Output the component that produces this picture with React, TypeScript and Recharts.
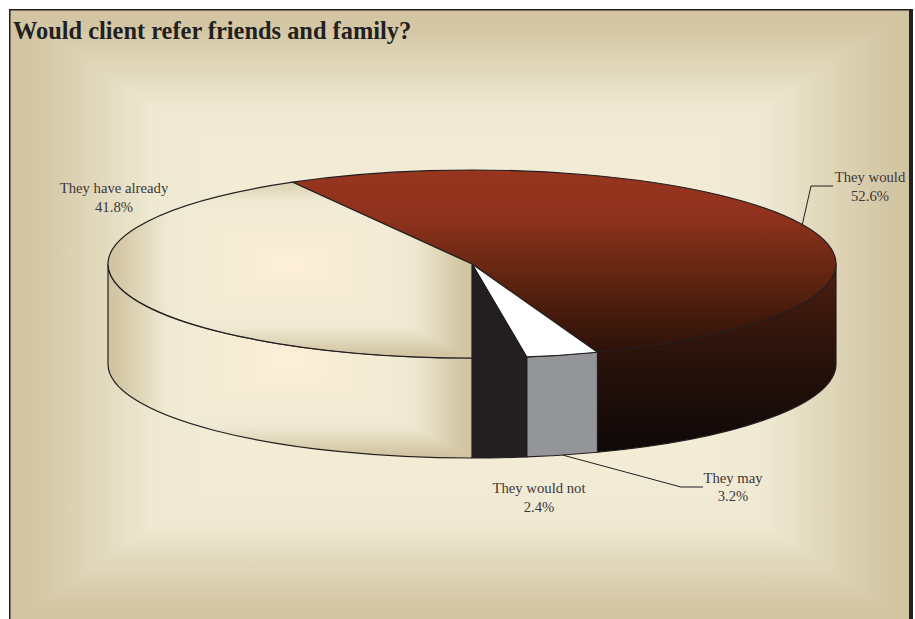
import React from 'react';
import { PieChart, Pie, Cell } from 'recharts';

const categories = ['They would', 'They may', 'They would not', 'They have already'];
const shares = [52.6, 3.2, 2.4, 41.8];
const shareLabels = ['52.6%', '3.2%', '2.4%', '41.8%'];

const tableData = categories.map((name, i) => ({ name, value: shares[i], text: shareLabels[i] }));

const WIDTH = 915;
const HEIGHT = 619;
const CX = 472;
const CY = 264;
const RX = 364;
const RY = 94;
const DEPTH = 100;

const INK = '#231f20';
const LABEL_INK = '#3b3738';
const SERIF = '"Liberation Serif", serif';

// centre of each label block and, where there is one, the elbow of its leader
const labelSpots = [
  { x: 870, y: 182, elbow: [811, 186], end: [833, 186], onWall: false },
  { x: 733, y: 482.5, elbow: [681, 487], end: [703, 487], onWall: true },
  { x: 539, y: 493 },
  { x: 114, y: 193 },
];

const topFills = ['url(#redTop)', '#ffffff', INK, 'bevel'];
const wallFills = ['url(#redWall)', '#939598', INK, 'bevel'];

const pt = (clock: number, dy = 0) => {
  const r = (clock * Math.PI) / 180;
  return [CX + RX * Math.sin(r), CY - RY * Math.cos(r) + dy];
};

// four mitred triangles, each ramping edge -> cream -> centre
const Bevel = ({ x, y, w, h }: { x: number; y: number; w: number; h: number }) => {
  const mx = x + w / 2;
  const my = y + h / 2;
  const r = x + w;
  const b = y + h;
  return (
    <g shapeRendering="crispEdges">
      <polygon points={`${x},${y} ${mx},${my} ${x},${b}`} fill="url(#rampL)" />
      <polygon points={`${r},${y} ${mx},${my} ${r},${b}`} fill="url(#rampR)" />
      <polygon points={`${x},${y} ${mx},${my} ${r},${y}`} fill="url(#rampT)" />
      <polygon points={`${x},${b} ${mx},${my} ${r},${b}`} fill="url(#rampB)" />
    </g>
  );
};

const ramp = [
  { o: '0%', c: '#d2c4a1' },
  { o: '6%', c: '#d4c7a5' },
  { o: '20%', c: '#e2d9bc' },
  { o: '32%', c: '#efe9d3' },
  { o: '42%', c: '#f1ebd6' },
  { o: '70%', c: '#f6ecd3' },
  { o: '100%', c: '#feefd8' },
];

const Ramp = ({ id, x1, y1, x2, y2 }: any) => (
  <linearGradient id={id} x1={x1} y1={y1} x2={x2} y2={y2}>
    {ramp.map((s) => (
      <stop key={s.o} offset={s.o} stopColor={s.c} />
    ))}
  </linearGradient>
);

const SliceShape = (props: any) => {
  const { startAngle, endAngle, index } = props;
  const c1 = 90 - startAngle;
  const c2 = 90 - endAngle;
  const [sx, sy] = pt(c1);
  const [ex, ey] = pt(c2);
  const large = c2 - c1 > 180 ? 1 : 0;
  const topPath = `M${CX},${CY} L${sx},${sy} A${RX},${RY} 0 ${large} 1 ${ex},${ey} Z`;

  const lo = Math.max(c1, 90);
  const hi = Math.min(c2, 270);
  let wallPath = '';
  if (lo < hi) {
    const [ax, ay] = pt(lo);
    const [bx, by] = pt(hi);
    wallPath = `M${ax},${ay} A${RX},${RY} 0 0 1 ${bx},${by} L${bx},${by + DEPTH} A${RX},${RY} 0 0 0 ${ax},${ay + DEPTH} Z`;
  }
  const isBevel = topFills[index] === 'bevel';

  return (
    <g>
      {wallPath && isBevel && (
        <>
          <clipPath id={`wallClip${index}`}>
            <path d={wallPath} />
          </clipPath>
          <g clipPath={`url(#wallClip${index})`}>
            <Bevel x={CX - RX} y={CY} w={RX} h={RY + DEPTH} />
          </g>
        </>
      )}
      {wallPath && (
        <path d={wallPath} fill={isBevel ? 'none' : wallFills[index]} stroke={INK} strokeWidth={1.2} strokeLinejoin="round" />
      )}
      {isBevel && (
        <>
          <clipPath id={`topClip${index}`}>
            <path d={topPath} />
          </clipPath>
          <g clipPath={`url(#topClip${index})`}>
            <Bevel x={CX - RX} y={CY - RY} w={RX} h={RY * 2} />
          </g>
        </>
      )}
      <path d={topPath} fill={isBevel ? 'none' : topFills[index]} stroke={INK} strokeWidth={1.2} strokeLinejoin="round" />
    </g>
  );
};

const SliceLabel = (props: any) => {
  const { index, midAngle, name, text } = props;
  const spot = labelSpots[index];
  let leader = null;
  if (spot.elbow) {
    const [ax, ay] = pt(90 - midAngle, spot.onWall ? DEPTH : 0);
    leader = (
      <polyline
        points={`${ax},${ay} ${spot.elbow[0]},${spot.elbow[1]} ${spot.end[0]},${spot.end[1]}`}
        fill="none"
        stroke={INK}
        strokeWidth={1}
      />
    );
  }
  return (
    <g>
      {leader}
      <text x={spot.x} y={spot.y} textAnchor="middle" fontFamily={SERIF} fontSize={14.7} fill={LABEL_INK}>
        {name ?? categories[index]}
      </text>
      <text x={spot.x} y={spot.y + 18.6} textAnchor="middle" fontFamily={SERIF} fontSize={14.7} fill={LABEL_INK}>
        {text ?? shareLabels[index]}
      </text>
    </g>
  );
};

export default function App() {
  return (
    <div style={{ position: 'absolute', left: 0, top: 0, width: WIDTH, height: HEIGHT, overflow: 'hidden', background: '#fff' }}>
      <PieChart width={WIDTH} height={HEIGHT} margin={{ top: 0, right: 0, bottom: 0, left: 0 }}>
        <defs>
          <Ramp id="rampL" x1="0" y1="0" x2="1" y2="0" />
          <Ramp id="rampR" x1="1" y1="0" x2="0" y2="0" />
          <Ramp id="rampT" x1="0" y1="0" x2="0" y2="1" />
          <Ramp id="rampB" x1="0" y1="1" x2="0" y2="0" />
          <linearGradient id="redTop" gradientUnits="userSpaceOnUse" x1="0" y1="170" x2="0" y2="358">
            <stop offset="0%" stopColor="#97351f" />
            <stop offset="25%" stopColor="#8f321d" />
            <stop offset="60%" stopColor="#5c2410" />
            <stop offset="80%" stopColor="#41190b" />
            <stop offset="100%" stopColor="#2a110c" />
          </linearGradient>
          <linearGradient id="redWall" gradientUnits="userSpaceOnUse" x1="0" y1="264" x2="0" y2="452">
            <stop offset="0%" stopColor="#501e10" />
            <stop offset="45%" stopColor="#2c130b" />
            <stop offset="100%" stopColor="#0e0808" />
          </linearGradient>
        </defs>

        <rect x={9} y={9} width={904} height={620} fill={INK} />
        <rect x={10.5} y={10.5} width={898.5} height={620} fill="#d2c4a1" />
        <Bevel x={10.5} y={10.5} w={898.5} h={612} />

        <text x={13} y={38.5} fontFamily={SERIF} fontWeight="bold" fontSize={24.4} fill={INK}>
          Would client refer friends and family?
        </text>

        <Pie
          data={tableData}
          dataKey="value"
          nameKey="name"
          cx={CX}
          cy={CY}
          outerRadius={RX}
          startAngle={119.52}
          endAngle={-240.48}
          isAnimationActive={false}
          shape={SliceShape}
          label={SliceLabel}
          labelLine={false}
        >
          {tableData.map((d) => (
            <Cell key={d.name} />
          ))}
        </Pie>
      </PieChart>
    </div>
  );
}
